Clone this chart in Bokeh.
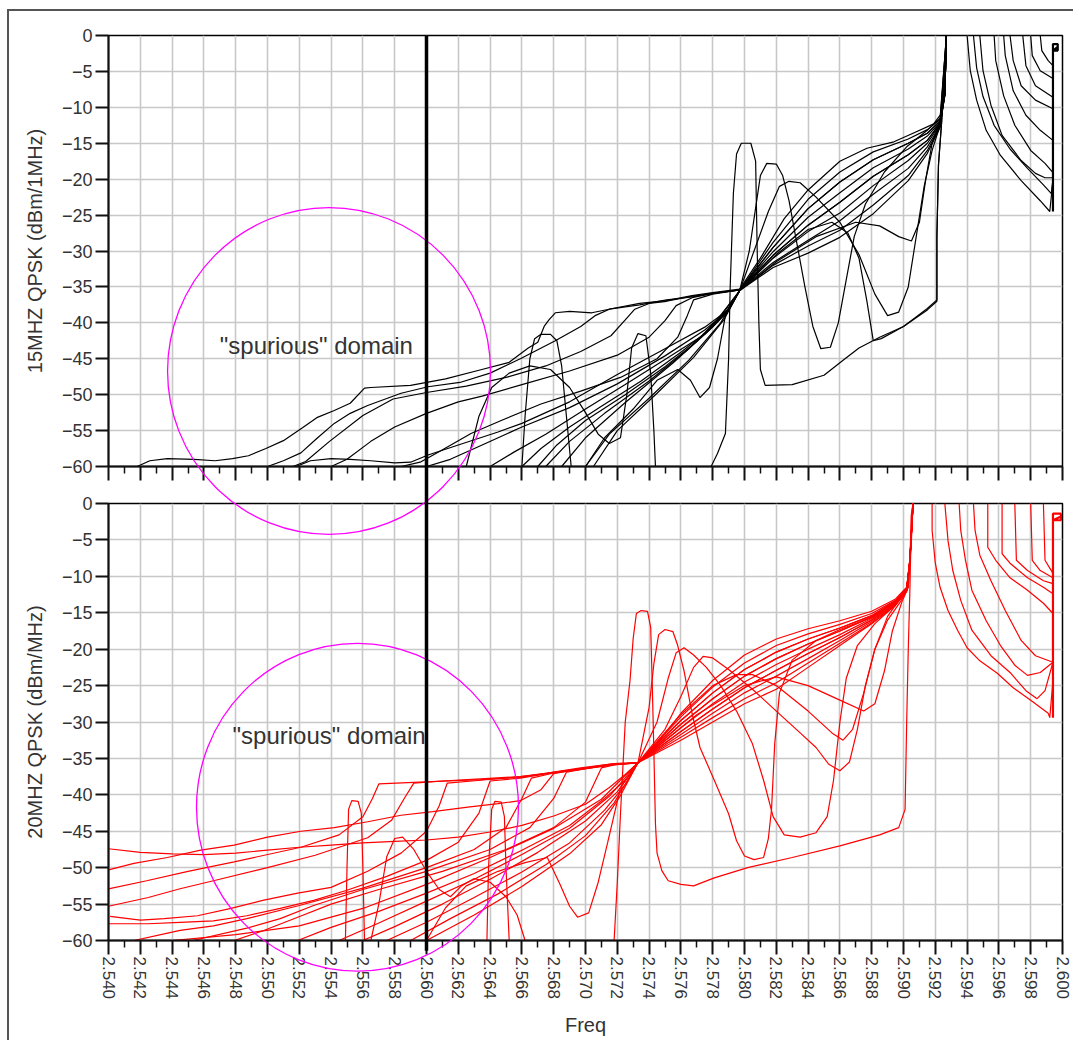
import math

from bokeh.embed import file_html
from bokeh.layouts import column
from bokeh.models import FixedTicker, Label, PrintfTickFormatter, Range1d
from bokeh.plotting import figure
from bokeh.resources import INLINE

# ---------------------------------------------------------------- axes
freq_ticks = [2.540, 2.542, 2.544, 2.546, 2.548, 2.550, 2.552, 2.554, 2.556, 2.558,
              2.560, 2.562, 2.564, 2.566, 2.568, 2.570, 2.572, 2.574, 2.576, 2.578,
              2.580, 2.582, 2.584, 2.586, 2.588, 2.590, 2.592, 2.594, 2.596, 2.598, 2.600]
freq_minor_ticks = [2.541, 2.543, 2.545, 2.547, 2.549, 2.551, 2.553, 2.555, 2.557, 2.559,
                    2.561, 2.563, 2.565, 2.567, 2.569, 2.571, 2.573, 2.575, 2.577, 2.579,
                    2.581, 2.583, 2.585, 2.587, 2.589, 2.591, 2.593, 2.595, 2.597, 2.599]
level_ticks = [0, -5, -10, -15, -20, -25, -30, -35, -40, -45, -50, -55, -60]

# channel-edge marker and highlighted regions (GHz, dB)
band_boundary = 2.560
top_region = dict(x=2.55387, y=-46.7, w=0.02031, h=45.5)
top_region_in_lower = dict(x=2.55387, y=18.2, w=0.02031, h=44.9)
low_region = dict(x=2.55566, y=-41.7, w=0.02025, h=45.0)

# ====================================================== 15 MHz QPSK (black)
# lead-in traces, each ending where the family pinches (~2.5797 GHz)
top_u1 = [(2.5418, -60.0), (2.5426, -59.2), (2.5437, -58.9), (2.5454, -59.0), (2.5467, -59.2),
          (2.5478, -58.9), (2.5488, -58.5), (2.5499, -57.5), (2.5510, -56.4), (2.5522, -54.6),
          (2.5531, -53.2), (2.5542, -52.2), (2.5552, -51.2), (2.5561, -49.1), (2.5565, -49.0),
          (2.5590, -48.7), (2.5612, -47.8), (2.5633, -46.6), (2.5652, -45.5), (2.5664, -43.5),
          (2.5670, -42.7), (2.5674, -40.5), (2.5677, -39.6), (2.5681, -38.6), (2.5690, -38.4),
          (2.5704, -38.6), (2.5717, -38.0), (2.5734, -37.3), (2.5751, -36.9), (2.5767, -36.2),
          (2.5780, -35.8), (2.5797, -35.3)]
top_u2 = [(2.5489, -60.0), (2.5500, -60.0), (2.5510, -59.2), (2.5521, -58.1), (2.5531, -56.1),
          (2.5542, -54.0), (2.5552, -52.6), (2.5563, -51.5), (2.5584, -49.8), (2.5601, -48.9),
          (2.5621, -48.3), (2.5640, -47.0), (2.5659, -45.0), (2.5681, -42.5), (2.5697, -40.5),
          (2.5706, -39.0), (2.5715, -38.1), (2.5734, -37.5), (2.5751, -36.8), (2.5767, -36.4),
          (2.5780, -35.9), (2.5797, -35.4)]
top_u3 = [(2.5516, -60.0), (2.5524, -59.3), (2.5539, -56.5), (2.5560, -52.9), (2.5579, -50.6),
          (2.5600, -49.7), (2.5625, -48.8), (2.5650, -47.6), (2.5675, -46.0), (2.5697, -44.0),
          (2.5716, -41.8), (2.5725, -39.6), (2.5731, -38.1), (2.5740, -37.3), (2.5751, -37.0),
          (2.5767, -36.3), (2.5780, -35.9), (2.5797, -35.4)]
top_u4 = [(2.5540, -60.0), (2.5550, -59.0), (2.5565, -56.5), (2.5580, -54.5), (2.5600, -52.6),
          (2.5620, -51.0), (2.5635, -50.2), (2.5660, -48.6), (2.5690, -46.7), (2.5720, -44.5),
          (2.5740, -42.0), (2.5750, -39.7), (2.5757, -37.6), (2.5767, -36.5), (2.5780, -35.9),
          (2.5797, -35.4)]
top_u5 = [(2.5584, -60.0), (2.5596, -59.4), (2.5609, -57.8), (2.5628, -55.4), (2.5647, -53.6),
          (2.5672, -51.3), (2.5697, -49.5), (2.5722, -47.6), (2.5745, -45.0), (2.5758, -42.0),
          (2.5764, -39.0), (2.5768, -36.8), (2.5780, -36.0), (2.5797, -35.4)]
top_d1 = [(2.5518, -60.0), (2.5527, -59.2), (2.5540, -58.9), (2.5552, -59.0), (2.5565, -59.2),
          (2.5580, -59.5), (2.5590, -59.4), (2.5601, -58.4), (2.5620, -57.0), (2.5645, -55.2),
          (2.5660, -54.0), (2.5690, -51.0), (2.5720, -47.2), (2.5750, -43.6), (2.5775, -40.6),
          (2.5789, -38.3), (2.5797, -35.5)]
top_d2 = [(2.5600, -60.0), (2.5615, -59.0), (2.5635, -57.0), (2.5660, -54.5), (2.5690, -51.8),
          (2.5720, -48.5), (2.5750, -44.6), (2.5775, -41.0), (2.5789, -38.4), (2.5797, -35.5)]
top_d3 = [(2.5640, -60.0), (2.5655, -58.0), (2.5675, -55.5), (2.5700, -52.0), (2.5725, -48.6),
          (2.5750, -45.1), (2.5775, -41.6), (2.5789, -38.5), (2.5797, -35.5)]
top_d4 = [(2.5660, -60.0), (2.5672, -57.5), (2.5690, -54.5), (2.5710, -51.6), (2.5735, -48.1),
          (2.5760, -44.1), (2.5780, -40.6), (2.5790, -38.3), (2.5797, -35.5)]
top_d5 = [(2.5670, -60.0), (2.5682, -57.0), (2.5700, -53.6), (2.5725, -50.0), (2.5750, -46.1),
          (2.5770, -42.6), (2.5785, -39.1), (2.5797, -35.5)]
top_d6 = [(2.5675, -60.0), (2.5690, -56.5), (2.5712, -52.6), (2.5740, -48.1), (2.5765, -43.6),
          (2.5782, -39.8), (2.5797, -35.5)]
top_d7 = [(2.5685, -60.0), (2.5700, -56.0), (2.5725, -51.1), (2.5755, -45.6), (2.5778, -41.0),
          (2.5790, -38.0), (2.5797, -35.5)]
top_w1 = [(2.5700, -60.0), (2.5712, -56.0), (2.5730, -52.0), (2.5745, -48.0), (2.5758, -46.5),
          (2.5766, -48.0), (2.5772, -50.4), (2.5778, -49.0), (2.5783, -45.0), (2.5788, -39.0),
          (2.5797, -35.5)]

# fan from the pinch up to the band edge (~2.5927 GHz)
top_fan_e = [(2.5810, -31.0), (2.5825, -25.5), (2.5840, -21.5), (2.5860, -17.5), (2.5877, -15.7),
             (2.5894, -14.8), (2.5906, -13.6), (2.5919, -12.3), (2.5924, -10.8), (2.5926, -7.5),
             (2.5927, 0.0)]
top_fan_1 = [(2.5818, -28.8), (2.5840, -22.8), (2.5860, -19.0), (2.5881, -16.2), (2.5903, -14.4),
             (2.5915, -13.1), (2.5923, -11.7), (2.5926, -8.2), (2.5927, 0.0)]
top_fan_2 = [(2.5818, -29.5), (2.5840, -24.1), (2.5860, -20.4), (2.5881, -17.3), (2.5903, -15.0),
             (2.5915, -13.6), (2.5923, -11.9), (2.5926, -8.0), (2.5927, 0.0)]
top_fan_3 = [(2.5818, -30.1), (2.5840, -25.3), (2.5860, -21.9), (2.5881, -18.4), (2.5903, -15.8),
             (2.5915, -14.0), (2.5923, -12.1), (2.5926, -8.4), (2.5927, 0.0)]
top_fan_4 = [(2.5818, -30.6), (2.5840, -26.4), (2.5860, -23.2), (2.5881, -19.6), (2.5903, -16.6),
             (2.5915, -14.6), (2.5923, -12.2), (2.5926, -8.1), (2.5927, 0.0)]
top_fan_5 = [(2.5818, -31.0), (2.5840, -27.3), (2.5860, -24.7), (2.5881, -20.9), (2.5903, -17.4),
             (2.5915, -15.0), (2.5923, -12.4), (2.5926, -8.3), (2.5927, 0.0)]
top_fan_6 = [(2.5818, -31.6), (2.5840, -28.5), (2.5860, -25.8), (2.5881, -22.1), (2.5903, -18.5),
             (2.5915, -15.5), (2.5923, -12.6), (2.5926, -8.0), (2.5927, 0.0)]
top_fan_7 = [(2.5818, -32.0), (2.5840, -29.3), (2.5860, -27.1), (2.5881, -23.6), (2.5903, -19.5),
             (2.5915, -16.0), (2.5923, -12.7), (2.5926, -8.2), (2.5927, 0.0)]
top_fan_l = [(2.5818, -32.3), (2.5840, -30.3), (2.5860, -28.1), (2.5881, -24.8), (2.5903, -20.2),
             (2.5915, -16.4), (2.5923, -12.8), (2.5926, -8.0), (2.5927, 0.0)]
top_fan_dip1 = [(2.5820, -30.5), (2.5840, -27.0), (2.5855, -26.0), (2.5865, -27.5), (2.5872, -31.0),
                (2.5877, -37.0), (2.5881, -42.5), (2.5886, -42.2), (2.5900, -40.5), (2.5915, -38.0),
                (2.5921, -36.8), (2.5921, -28.0), (2.5922, -18.0), (2.5924, -12.0), (2.5927, 0.0)]
top_fan_dip2 = [(2.5820, -31.5), (2.5845, -28.0), (2.5870, -26.0), (2.5885, -26.5), (2.5897, -28.0),
                (2.5905, -28.6), (2.5910, -26.0), (2.5914, -20.0), (2.5918, -15.0), (2.5923, -12.0),
                (2.5927, 0.0)]

# traces with in-band bumps
top_b1 = [(2.5660, -60.0), (2.5662, -53.0), (2.5665, -45.0), (2.5668, -42.2), (2.5672, -41.6),
          (2.5678, -41.6), (2.5682, -42.5), (2.5685, -46.0), (2.5688, -53.0), (2.5691, -60.0)]
top_b2 = [(2.5625, -60.0), (2.5633, -53.0), (2.5641, -49.0), (2.5652, -47.0), (2.5665, -46.0),
          (2.5678, -46.5), (2.5690, -49.0), (2.5700, -52.5), (2.5708, -55.5), (2.5715, -56.8),
          (2.5722, -56.0), (2.5726, -50.0), (2.5729, -43.5), (2.5733, -41.5), (2.5738, -41.8),
          (2.5741, -47.0), (2.5743, -55.0), (2.5744, -60.0)]
top_b3 = [(2.5779, -60.0), (2.5783, -58.2), (2.5788, -55.4), (2.5790, -45.0), (2.5791, -35.0),
          (2.5793, -22.0), (2.5795, -16.5), (2.5798, -15.0), (2.5804, -15.0), (2.5807, -17.5),
          (2.5808, -30.0), (2.5809, -39.7), (2.5810, -46.5), (2.5813, -48.7), (2.5830, -48.6),
          (2.5850, -47.3), (2.5862, -45.2), (2.5872, -43.5), (2.5885, -42.0), (2.5900, -40.5),
          (2.5915, -38.2), (2.5921, -37.0), (2.5921, -28.0), (2.5922, -18.0), (2.5924, -12.0),
          (2.5927, 0.0)]
top_b4 = [(2.5700, -60.0), (2.5715, -55.5), (2.5740, -50.5), (2.5765, -45.2), (2.5785, -40.0),
          (2.5797, -35.5), (2.5803, -30.0), (2.5807, -24.0), (2.5810, -19.5), (2.5814, -17.8),
          (2.5820, -17.9), (2.5824, -19.5), (2.5828, -23.0), (2.5833, -29.0), (2.5838, -35.0),
          (2.5843, -40.5), (2.5848, -43.6), (2.5854, -43.4), (2.5859, -40.0), (2.5864, -34.0),
          (2.5869, -28.0), (2.5876, -23.5), (2.5888, -19.0), (2.5902, -15.5), (2.5915, -13.2),
          (2.5923, -11.5), (2.5927, 0.0)]
top_b5 = [(2.5705, -60.0), (2.5720, -55.0), (2.5745, -49.8), (2.5768, -44.8), (2.5787, -39.6),
          (2.5797, -35.5), (2.5806, -30.0), (2.5815, -24.5), (2.5822, -21.0), (2.5828, -20.3),
          (2.5835, -20.5), (2.5845, -22.5), (2.5860, -26.0), (2.5872, -30.5), (2.5882, -36.0),
          (2.5890, -39.0), (2.5897, -38.5), (2.5903, -35.0), (2.5908, -28.0), (2.5913, -21.0),
          (2.5918, -16.0), (2.5923, -12.5), (2.5927, 0.0)]

# upper adjacent channel skirts
top_r1 = [(2.5940, 0.0), (2.5942, -4.9), (2.5946, -9.0), (2.5952, -13.2), (2.5961, -16.7),
          (2.5974, -20.2), (2.5986, -23.0), (2.5992, -24.5), (2.5994, -20.2)]
top_r2 = [(2.5944, 0.0), (2.5946, -4.5), (2.5950, -8.5), (2.5957, -12.5), (2.5967, -15.8),
          (2.5978, -18.5), (2.5988, -20.8), (2.5993, -22.0), (2.5994, -20.0)]
top_r3 = [(2.5948, 0.0), (2.5950, -4.9), (2.5955, -9.7), (2.5962, -13.9), (2.5974, -17.4),
          (2.5983, -19.2), (2.5989, -19.8), (2.5994, -19.8)]
top_r4 = [(2.5957, 0.0), (2.5958, -3.5), (2.5963, -8.4), (2.5970, -12.5), (2.5980, -16.0),
          (2.5989, -17.8), (2.5994, -19.1)]
top_r5 = [(2.5963, 0.0), (2.5964, -2.8), (2.5969, -7.7), (2.5977, -11.1), (2.5986, -13.2),
          (2.5994, -14.6)]
top_r6 = [(2.5967, 0.0), (2.5969, -3.5), (2.5974, -7.0), (2.5983, -9.0), (2.5994, -10.2)]
top_r7 = [(2.5975, 0.0), (2.5977, -4.2), (2.5983, -7.0), (2.5994, -8.6)]
top_r8 = [(2.5980, 0.0), (2.5981, -2.8), (2.5986, -4.9), (2.5994, -6.0)]
top_r9 = [(2.5986, 0.0), (2.5987, -2.1), (2.5991, -3.5), (2.5994, -4.2)]
top_edge = [(2.5994, -24.5), (2.5994, -2.1), (2.5997, -2.1), (2.5997, -1.2), (2.5994, -1.2),
            (2.5994, -2.1), (2.5997, -1.6)]

top_traces = [
    top_u1 + top_fan_e, top_u2 + top_fan_2, top_u3 + top_fan_4, top_u4 + top_fan_6,
    top_u5 + top_fan_3, top_d1 + top_fan_1, top_d2 + top_fan_5, top_d3 + top_fan_7,
    top_d4 + top_fan_l, top_d5 + top_fan_dip1, top_d6 + top_fan_dip2, top_d7 + top_fan_4,
    top_w1 + top_fan_2,
    top_b1, top_b2, top_b3, top_b4, top_b5,
    top_r1, top_r2, top_r3, top_r4, top_r5, top_r6, top_r7, top_r8, top_r9,
]

# ====================================================== 20 MHz QPSK (red)
low_ua = [(2.5400, -52.9), (2.5424, -51.8), (2.5450, -50.5), (2.5479, -49.2), (2.5521, -47.2),
          (2.5545, -45.5), (2.5560, -43.0), (2.5566, -40.5), (2.5570, -38.5), (2.5603, -38.2),
          (2.5634, -37.9), (2.5659, -37.6), (2.5676, -37.0), (2.5697, -36.4), (2.5718, -35.8),
          (2.5733, -35.6)]
low_ub = [(2.5400, -55.3), (2.5425, -54.1), (2.5445, -52.9), (2.5466, -51.8), (2.5500, -50.0),
          (2.5530, -48.3), (2.5563, -45.9), (2.5578, -43.5), (2.5586, -40.5), (2.5592, -38.4),
          (2.5610, -38.1), (2.5634, -37.8), (2.5659, -37.5), (2.5676, -37.1), (2.5697, -36.5),
          (2.5718, -35.8), (2.5733, -35.6)]
low_uc = [(2.5401, -56.7), (2.5420, -57.2), (2.5435, -57.0), (2.5456, -56.6), (2.5477, -55.6),
          (2.5497, -54.5), (2.5519, -53.5), (2.5540, -52.7), (2.5563, -50.5), (2.5584, -48.0),
          (2.5600, -45.0), (2.5608, -41.5), (2.5613, -38.4), (2.5634, -38.0), (2.5659, -37.5),
          (2.5676, -37.0), (2.5697, -36.3), (2.5718, -35.7), (2.5733, -35.6)]
low_ud = [(2.5400, -57.7), (2.5425, -57.7), (2.5445, -57.5), (2.5466, -57.3), (2.5487, -56.6),
          (2.5508, -55.6), (2.5529, -54.5), (2.5550, -53.1), (2.5575, -51.2), (2.5600, -49.0),
          (2.5620, -46.5), (2.5633, -42.5), (2.5640, -38.1), (2.5659, -37.7), (2.5676, -37.1),
          (2.5697, -36.4), (2.5718, -35.8), (2.5733, -35.6)]
low_ue = [(2.5416, -60.0), (2.5445, -58.6), (2.5466, -58.0), (2.5487, -57.0), (2.5520, -55.2),
          (2.5560, -52.8), (2.5600, -50.0), (2.5630, -47.5), (2.5650, -44.5), (2.5660, -40.5),
          (2.5666, -37.7), (2.5680, -37.0), (2.5697, -36.5), (2.5718, -35.8), (2.5733, -35.6)]
low_uf = [(2.5453, -60.0), (2.5487, -58.3), (2.5508, -57.0), (2.5529, -55.2), (2.5560, -53.0),
          (2.5600, -50.5), (2.5640, -47.5), (2.5665, -44.5), (2.5680, -40.5), (2.5688, -36.9),
          (2.5700, -36.4), (2.5718, -35.9), (2.5733, -35.6)]
low_ug = [(2.5479, -60.0), (2.5498, -58.6), (2.5519, -56.8), (2.5540, -55.0), (2.5570, -53.0),
          (2.5610, -50.5), (2.5650, -47.5), (2.5680, -44.5), (2.5700, -41.0), (2.5710, -36.3),
          (2.5720, -35.8), (2.5733, -35.6)]
low_uh = [(2.5400, -50.3), (2.5416, -49.4), (2.5437, -48.6), (2.5458, -47.6), (2.5479, -46.9),
          (2.5500, -45.8), (2.5521, -45.0), (2.5542, -44.5), (2.5563, -43.7), (2.5584, -42.8),
          (2.5604, -42.3), (2.5626, -41.7), (2.5645, -41.2), (2.5659, -40.8), (2.5672, -39.3),
          (2.5680, -37.1), (2.5697, -36.4), (2.5718, -35.7), (2.5733, -35.6)]
low_d1 = [(2.5400, -47.4), (2.5420, -47.9), (2.5440, -48.1), (2.5460, -48.2), (2.5480, -48.0),
          (2.5500, -47.6), (2.5520, -47.2), (2.5540, -46.9), (2.5560, -46.6), (2.5580, -46.4),
          (2.5600, -46.2), (2.5620, -45.8), (2.5640, -45.1), (2.5660, -44.2), (2.5680, -42.9),
          (2.5700, -41.3), (2.5715, -39.0), (2.5725, -37.2), (2.5733, -35.6)]
low_d2 = [(2.5519, -60.0), (2.5540, -58.2), (2.5570, -56.0), (2.5600, -53.5), (2.5630, -50.8),
          (2.5660, -47.6), (2.5690, -44.2), (2.5712, -40.5), (2.5725, -38.0), (2.5733, -35.6)]
low_d3 = [(2.5545, -60.0), (2.5570, -57.6), (2.5600, -54.6), (2.5630, -51.6), (2.5660, -48.2),
          (2.5690, -44.6), (2.5715, -40.2), (2.5733, -35.6)]
low_d4 = [(2.5560, -60.0), (2.5580, -58.1), (2.5610, -55.0), (2.5640, -51.6), (2.5670, -47.9),
          (2.5700, -43.6), (2.5720, -39.6), (2.5733, -35.6)]
low_d5 = [(2.5575, -60.0), (2.5600, -57.5), (2.5630, -54.1), (2.5660, -50.6), (2.5690, -46.6),
          (2.5712, -42.1), (2.5725, -38.6), (2.5733, -35.6)]
low_d6 = [(2.5590, -60.0), (2.5615, -57.0), (2.5645, -53.6), (2.5675, -49.6), (2.5700, -45.6),
          (2.5718, -41.1), (2.5733, -35.6)]
low_d7 = [(2.5440, -60.0), (2.5480, -59.2), (2.5520, -58.0), (2.5560, -55.6), (2.5600, -52.3),
          (2.5640, -48.6), (2.5680, -44.6), (2.5710, -40.6), (2.5733, -35.6)]
low_d8 = [(2.5600, -60.0), (2.5630, -56.5), (2.5660, -52.6), (2.5690, -48.1), (2.5710, -44.1),
          (2.5722, -40.1), (2.5733, -35.6)]
low_w4 = [(2.5600, -60.0), (2.5612, -55.5), (2.5625, -52.5), (2.5645, -50.5), (2.5662, -49.3),
          (2.5676, -48.6), (2.5684, -52.3), (2.5690, -55.3), (2.5695, -56.8), (2.5702, -56.2),
          (2.5708, -52.0), (2.5714, -46.5), (2.5722, -39.0), (2.5733, -35.6)]

low_fan_e = [(2.5745, -33.0), (2.5760, -28.8), (2.5780, -24.3), (2.5800, -20.8), (2.5820, -18.6),
             (2.5840, -17.2), (2.5860, -16.1), (2.5880, -14.8), (2.5895, -13.1), (2.5902, -11.5),
             (2.5904, -7.8), (2.5905, -1.5), (2.5906, 0.0)]
low_fan_1 = [(2.5760, -29.3), (2.5780, -25.2), (2.5800, -21.9), (2.5820, -19.5), (2.5840, -17.9),
             (2.5860, -16.6), (2.5880, -15.1), (2.5895, -13.3), (2.5902, -11.6), (2.5904, -7.6),
             (2.5906, 0.0)]
low_fan_2 = [(2.5760, -29.8), (2.5780, -26.0), (2.5800, -22.8), (2.5820, -20.4), (2.5840, -18.6),
             (2.5860, -17.1), (2.5880, -15.4), (2.5895, -13.4), (2.5902, -11.7), (2.5904, -8.0),
             (2.5906, 0.0)]
low_fan_3 = [(2.5760, -30.3), (2.5780, -26.8), (2.5800, -23.7), (2.5820, -21.3), (2.5840, -19.3),
             (2.5860, -17.5), (2.5880, -15.6), (2.5895, -13.5), (2.5902, -11.8), (2.5904, -7.9),
             (2.5906, 0.0)]
low_fan_4 = [(2.5760, -30.8), (2.5780, -27.5), (2.5800, -24.5), (2.5820, -22.1), (2.5840, -20.0),
             (2.5860, -18.0), (2.5880, -15.8), (2.5895, -13.6), (2.5902, -11.8), (2.5904, -8.1),
             (2.5906, 0.0)]
low_fan_5 = [(2.5760, -31.3), (2.5780, -28.2), (2.5800, -25.3), (2.5820, -22.9), (2.5840, -20.6),
             (2.5860, -18.4), (2.5880, -16.0), (2.5895, -13.7), (2.5902, -11.9), (2.5904, -7.7),
             (2.5906, 0.0)]
low_fan_6 = [(2.5760, -31.7), (2.5780, -28.8), (2.5800, -26.0), (2.5820, -23.7), (2.5840, -21.3),
             (2.5860, -18.8), (2.5880, -16.2), (2.5895, -13.8), (2.5902, -11.9), (2.5904, -8.2),
             (2.5906, 0.0)]
low_fan_7 = [(2.5760, -32.1), (2.5780, -29.4), (2.5800, -26.8), (2.5820, -24.6), (2.5840, -21.9),
             (2.5860, -19.2), (2.5880, -16.4), (2.5895, -13.9), (2.5902, -12.0), (2.5904, -7.9),
             (2.5906, 0.0)]
low_fan_l = [(2.5760, -32.5), (2.5780, -30.0), (2.5800, -27.5), (2.5820, -25.5), (2.5840, -22.5),
             (2.5860, -19.5), (2.5880, -16.5), (2.5895, -14.0), (2.5902, -12.0), (2.5904, -8.0),
             (2.5906, 0.0)]
low_fan_p2 = [(2.5740, -28.0), (2.5743, -22.0), (2.5746, -18.0), (2.5750, -17.3), (2.5755, -17.6),
              (2.5758, -19.5), (2.5762, -23.0), (2.5767, -28.8), (2.5772, -33.5), (2.5776, -35.5),
              (2.5781, -38.0), (2.5790, -42.6), (2.5795, -46.3), (2.5800, -48.4), (2.5806, -48.9),
              (2.5812, -48.6), (2.5815, -46.0), (2.5817, -42.0), (2.5819, -33.0), (2.5822, -26.0),
              (2.5830, -21.5), (2.5845, -18.8), (2.5860, -17.3), (2.5880, -15.6), (2.5895, -13.5),
              (2.5902, -11.8), (2.5904, -8.0), (2.5906, 0.0)]
low_fan_p3 = [(2.5745, -30.0), (2.5752, -24.0), (2.5757, -20.5), (2.5762, -19.8), (2.5768, -20.8),
              (2.5776, -22.5), (2.5785, -25.0), (2.5795, -28.5), (2.5805, -33.0), (2.5812, -38.0),
              (2.5818, -43.0), (2.5825, -45.5), (2.5835, -45.8), (2.5845, -45.2), (2.5852, -43.0),
              (2.5856, -38.0), (2.5860, -30.0), (2.5864, -24.0), (2.5871, -19.5), (2.5882, -16.5),
              (2.5895, -13.9), (2.5902, -12.0), (2.5904, -8.0), (2.5906, 0.0)]
low_fan_p4 = [(2.5750, -31.0), (2.5760, -26.5), (2.5768, -22.5), (2.5774, -21.0), (2.5780, -21.2),
              (2.5790, -22.8), (2.5805, -25.5), (2.5820, -28.5), (2.5835, -31.5), (2.5845, -33.5),
              (2.5853, -35.8), (2.5860, -36.7), (2.5866, -35.5), (2.5871, -31.0), (2.5876, -25.0),
              (2.5882, -20.0), (2.5890, -16.0), (2.5898, -13.5), (2.5902, -12.0), (2.5904, -8.0),
              (2.5906, 0.0)]
low_fan_p5 = [(2.5760, -29.0), (2.5780, -25.0), (2.5795, -23.5), (2.5805, -23.5), (2.5820, -25.0),
              (2.5840, -28.5), (2.5855, -31.5), (2.5862, -32.5), (2.5868, -31.0), (2.5875, -26.0),
              (2.5882, -20.0), (2.5890, -15.5), (2.5898, -13.0), (2.5903, -11.5), (2.5905, -5.0),
              (2.5906, 0.0)]
low_fan_p6 = [(2.5770, -29.0), (2.5800, -25.0), (2.5820, -23.8), (2.5840, -25.0), (2.5860, -27.0),
              (2.5875, -28.5), (2.5882, -27.5), (2.5888, -23.0), (2.5893, -17.5), (2.5899, -13.5),
              (2.5903, -11.5), (2.5906, 0.0)]

low_b1 = [(2.5718, -60.0), (2.5720, -52.0), (2.5722, -42.6), (2.5725, -30.0), (2.5728, -24.3),
          (2.5730, -18.5), (2.5732, -15.1), (2.5735, -14.7), (2.5739, -14.8), (2.5741, -17.0),
          (2.5742, -25.0), (2.5743, -34.0), (2.5744, -44.0), (2.5745, -48.0), (2.5748, -50.4),
          (2.5752, -51.8), (2.5760, -52.3), (2.5768, -52.5), (2.5781, -51.4), (2.5802, -50.0),
          (2.5830, -48.6), (2.5860, -47.0), (2.5885, -45.5), (2.5897, -44.5), (2.5901, -42.0),
          (2.5902, -30.0), (2.5903, -20.0), (2.5904, -12.0), (2.5905, -1.5), (2.5906, 0.0)]
low_w1 = [(2.5549, -60.0), (2.5550, -50.0), (2.5551, -42.0), (2.5553, -40.8), (2.5557, -40.9),
          (2.5559, -42.5), (2.5560, -50.0), (2.5561, -60.0)]
low_w2 = [(2.5638, -60.0), (2.5639, -50.0), (2.5641, -42.0), (2.5643, -40.9), (2.5647, -41.0),
          (2.5649, -43.0), (2.5650, -50.0), (2.5652, -60.0)]
low_w3 = [(2.5565, -60.0), (2.5570, -55.0), (2.5575, -48.5), (2.5580, -46.0), (2.5585, -45.8),
          (2.5592, -47.5), (2.5600, -50.5), (2.5608, -53.0), (2.5615, -54.0), (2.5622, -52.5),
          (2.5630, -51.5), (2.5640, -52.0), (2.5650, -54.0), (2.5657, -56.5), (2.5662, -60.0)]

low_s1 = [(2.5918, 0.0), (2.5918, -3.7), (2.5920, -8.2), (2.5923, -11.5), (2.5928, -14.7),
          (2.5934, -17.4), (2.5940, -19.8), (2.5948, -21.6), (2.5959, -23.3), (2.5969, -25.3),
          (2.5980, -27.0), (2.5991, -28.8), (2.5992, -29.4), (2.5994, -24.3), (2.5994, -21.8)]
low_s2 = [(2.5926, 0.0), (2.5928, -5.1), (2.5931, -9.2), (2.5936, -13.3), (2.5943, -17.4),
          (2.5955, -20.9), (2.5967, -23.2), (2.5977, -25.7), (2.5984, -26.8), (2.5989, -25.7),
          (2.5994, -21.8)]
low_s3 = [(2.5935, 0.0), (2.5936, -3.7), (2.5939, -7.8), (2.5943, -11.9), (2.5952, -16.1),
          (2.5961, -19.5), (2.5970, -22.2), (2.5978, -23.6), (2.5986, -23.2), (2.5994, -21.8)]
low_s4 = [(2.5944, 0.0), (2.5945, -3.7), (2.5948, -7.1), (2.5955, -10.6), (2.5964, -14.7),
          (2.5974, -18.8), (2.5983, -20.9), (2.5994, -21.8)]
low_s5 = [(2.5953, 0.0), (2.5953, -6.0), (2.5958, -7.8), (2.5967, -10.2), (2.5978, -11.9),
          (2.5988, -13.7), (2.5994, -15.1)]
low_s6 = [(2.5962, 0.0), (2.5962, -6.9), (2.5967, -8.2), (2.5978, -10.2), (2.5988, -11.5),
          (2.5994, -12.4)]
low_s7 = [(2.5970, 0.0), (2.5971, -7.8), (2.5978, -9.2), (2.5988, -10.6), (2.5994, -11.0)]
low_s8 = [(2.5980, 0.0), (2.5981, -7.8), (2.5986, -9.2), (2.5994, -10.2)]
low_s9 = [(2.5988, 0.0), (2.5989, -7.8), (2.5994, -9.6)]
low_edge = [(2.5994, -29.4), (2.5994, -2.3), (2.5999, -2.3), (2.5999, -1.4), (2.5994, -1.4),
            (2.5994, -2.3), (2.5999, -1.8)]

low_traces = [
    low_ua + low_fan_e, low_ub + low_fan_1, low_uc + low_fan_2, low_ud + low_fan_3,
    low_ue + low_fan_4, low_uf + low_fan_5, low_ug + low_fan_6, low_uh + low_fan_7,
    low_d1 + low_fan_l, low_d2 + low_fan_p2, low_d3 + low_fan_p3, low_d4 + low_fan_p4,
    low_d5 + low_fan_p5, low_d6 + low_fan_p6, low_d7 + low_fan_2, low_d8 + low_fan_5,
    low_w4 + low_fan_3,
    low_b1, low_w1, low_w2, low_w3,
    low_s1, low_s2, low_s3, low_s4, low_s5, low_s6, low_s7, low_s8, low_s9,
]

FONT = "Liberation Sans"
TEXT = "#333333"
freq_range = Range1d(2.540, 2.600)


def panel(height, border_top, border_bottom, ylabel, show_freq_labels):
    p = figure(width=1064, height=height, x_range=freq_range, y_range=Range1d(-60, 0),
               output_backend="svg", toolbar_location=None,
               min_border_left=99, min_border_right=11,
               min_border_top=border_top, min_border_bottom=border_bottom)
    p.outline_line_color = "black"
    p.outline_line_width = 1.5
    p.background_fill_color = "white"
    p.border_fill_color = "white"

    p.xaxis.ticker = FixedTicker(ticks=freq_ticks, minor_ticks=freq_minor_ticks)
    p.xaxis.formatter = PrintfTickFormatter(format="%.3f")
    p.xaxis.major_label_orientation = -math.pi / 2
    p.xaxis.major_tick_out = 14
    p.xaxis.major_tick_in = 0
    p.xaxis.minor_tick_out = 7
    p.xaxis.minor_tick_in = 0
    p.xaxis.major_label_standoff = 2
    p.yaxis.ticker = FixedTicker(ticks=level_ticks)
    p.yaxis.minor_tick_line_color = None
    p.yaxis.major_tick_out = 13
    p.yaxis.major_tick_in = 0
    p.yaxis.major_label_standoff = 3
    p.yaxis.axis_label = ylabel
    p.yaxis.axis_label_standoff = 13
    for ax in (p.xaxis[0], p.yaxis[0]):
        ax.axis_line_color = "#111111"
        ax.axis_line_width = 2
        ax.major_tick_line_color = "#111111"
        ax.major_tick_line_width = 2
        ax.minor_tick_line_color = "#111111" if ax is p.xaxis[0] else None
        ax.minor_tick_line_width = 1.5
        ax.major_label_text_font = FONT
        ax.major_label_text_font_size = "18px"
        ax.major_label_text_color = TEXT
        ax.axis_label_text_font = FONT
        ax.axis_label_text_font_size = "20px"
        ax.axis_label_text_font_style = "normal"
        ax.axis_label_text_color = TEXT
    p.xaxis.major_label_text_font_size = "17px"
    if show_freq_labels:
        p.xaxis.axis_label = "Freq"
        p.xaxis.axis_label_standoff = 12
    else:
        # tick marks only under the upper panel
        p.xaxis.major_label_overrides = {t: "" for t in freq_ticks}

    p.xgrid.ticker = FixedTicker(ticks=freq_ticks)
    p.ygrid.ticker = FixedTicker(ticks=level_ticks)
    for g in (p.xgrid[0], p.ygrid[0]):
        g.grid_line_color = "#c8c8c8"
        g.grid_line_width = 1.6
    return p


def draw_traces(p, traces, color):
    xs = [[pt[0] for pt in tr] for tr in traces]
    ys = [[pt[1] for pt in tr] for tr in traces]
    p.multi_line(xs=xs, ys=ys, line_color=color, line_width=1.2)


def draw_edge(p, trace, color):
    p.line(x=[pt[0] for pt in trace], y=[pt[1] for pt in trace], line_color=color, line_width=2.2)


def draw_region(p, r):
    p.ellipse(x=[r["x"]], y=[r["y"]], width=[r["w"]], height=[r["h"]],
              fill_color=None, line_color="#ff00ff", line_width=1.3, level="overlay")


top = panel(480, 24, 25, "15MHZ QPSK (dBm/1MHz)", False)
draw_traces(top, top_traces, "black")
draw_edge(top, top_edge, "black")
draw_region(top, top_region)
top.segment(x0=[band_boundary], y0=[0], x1=[band_boundary], y1=[-70],
            line_color="black", line_width=3.5, level="overlay")
top.add_layout(Label(x=2.5470, y=-43.1, text='"spurious" domain', text_font=FONT,
                     text_font_size="24px", text_color=TEXT, text_baseline="middle"))

low = panel(549, 12, 100, "20MHZ QPSK (dBm/MHz)", True)
draw_traces(low, low_traces, "#ff0000")
draw_edge(low, low_edge, "#ff0000")
draw_region(low, low_region)
draw_region(low, top_region_in_lower)
low.segment(x0=[band_boundary], y0=[6], x1=[band_boundary], y1=[-61.4],
            line_color="black", line_width=3.5, level="overlay")
low.add_layout(Label(x=2.5478, y=-31.9, text='"spurious" domain', text_font=FONT,
                     text_font_size="24px", text_color=TEXT, text_baseline="middle"))

layout = column(top, low, margin=(9, 0, 0, 7),
                styles={"border-left": "2px solid #555555", "border-top": "2px solid #555555"})

open("out.html", "w").write(file_html(layout, INLINE))
